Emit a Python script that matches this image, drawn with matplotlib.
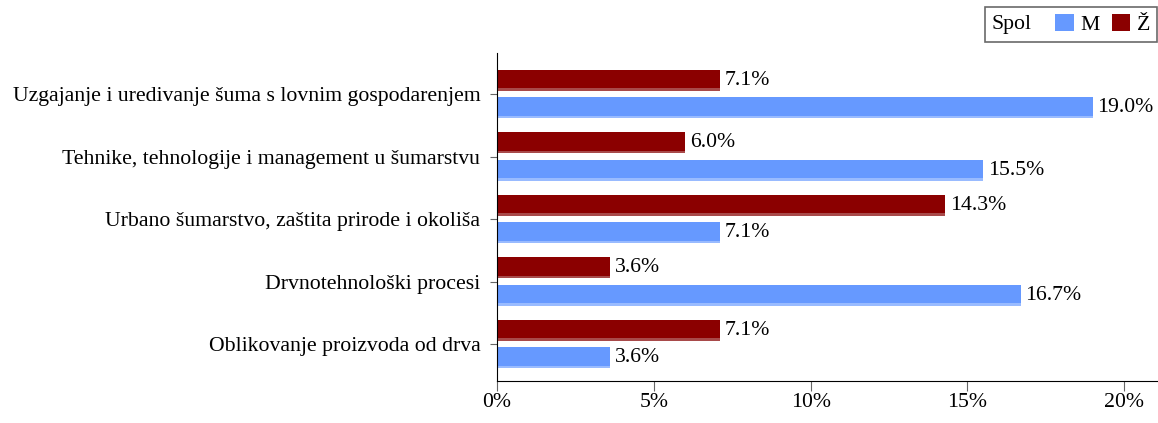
import matplotlib.pyplot as plt
from matplotlib.offsetbox import HPacker
import numpy as np

# data
smjerovi = [
    "Uzgajanje i uredivanje šuma s lovnim gospodarenjem",
    "Tehnike, tehnologije i management u šumarstvu",
    "Urbano šumarstvo, zaštita prirode i okoliša",
    "Drvnotehnološki procesi",
    "Oblikovanje proizvoda od drva",
]
muski = [19.0, 15.5, 7.1, 16.7, 3.6]
zenske = [7.1, 6.0, 14.3, 3.6, 7.1]
xticks = [0, 5, 10, 15, 20]

plt.rcParams['font.family'] = ['Liberation Serif', 'DejaVu Serif']
fs = 15.7

fig = plt.figure(figsize=(11.58, 4.23), dpi=100)
ax = fig.add_axes([497 / 1158, 1 - 381 / 423, 661 / 1158, (381 - 53) / 423])

y = np.arange(len(smjerovi))
h = 0.34
off = 0.22
bars_m = ax.barh(y + off, muski, height=h, color='#6699ff', label='M')
bars_z = ax.barh(y - off, zenske, height=h, color='#8b0000', label='Ž')
# lighter strip along the lower edge of each bar
ax.barh(y + off + h / 2 - 0.02, muski, height=0.04, color='#99bbff')
ax.barh(y - off + h / 2 - 0.02, zenske, height=0.04, color='#a84a4a')

for b, v in zip(bars_m, muski):
    ax.text(v + 0.15, b.get_y() + b.get_height() / 2, f"{v:.1f}%",
            va='center', ha='left', fontsize=fs)
for b, v in zip(bars_z, zenske):
    ax.text(v + 0.15, b.get_y() + b.get_height() / 2, f"{v:.1f}%",
            va='center', ha='left', fontsize=fs)

ax.set_yticks(y)
ax.set_yticklabels(smjerovi, fontsize=fs)
ax.set_ylim(4.59, -0.656)
ax.set_xlim(0, 21.08)
ax.set_xticks(xticks)
ax.set_xticklabels([f"{t}%" for t in xticks], fontsize=fs)
ax.tick_params(axis='y', length=5, color='#666666', pad=7)
ax.tick_params(axis='x', length=7.2, color='#666666', pad=1.5)

for s in ['top', 'right']:
    ax.spines[s].set_visible(False)

leg = fig.legend(handles=[bars_m, bars_z], labels=['M', 'Ž'], title='Spol',
                 loc='upper right', bbox_to_anchor=(1157 / 1158, 1 - 7 / 423),
                 ncol=2, fontsize=fs, title_fontsize=fs, frameon=True,
                 fancybox=False, edgecolor='#444444', handlelength=0.85,
                 handleheight=0.85, handletextpad=0.3, columnspacing=0.55,
                 borderpad=0.32, borderaxespad=0)
leg.get_frame().set_linewidth(1.2)
# title on the same line as the entries
old = leg._legend_box
new = HPacker(pad=old.pad, sep=17, align='center', children=old.get_children())
new.set_figure(fig)
new.set_offset(leg._findoffset)
leg._legend_box = new

fig.savefig('out.png', dpi=100)
